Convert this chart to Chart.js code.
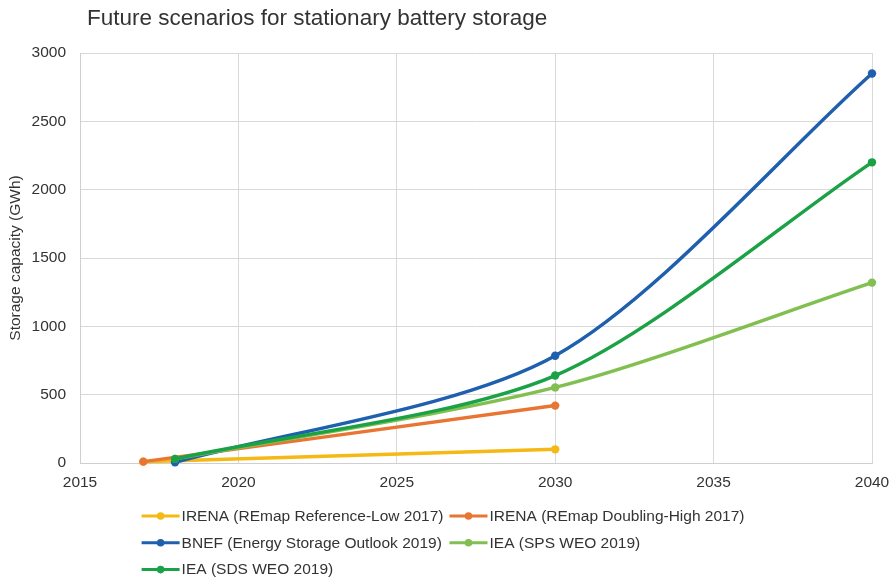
<!DOCTYPE html>
<html>
<head>
<meta charset="utf-8">
<script src="https://cdn.jsdelivr.net/npm/chart.js@4/dist/chart.umd.min.js"></script>
<style>
  html, body { margin: 0; padding: 0; background: #fff; }
  #wrap { width: 893px; height: 582px; position: relative; }
</style>
</head>
<body>
<div id="wrap"><canvas id="chart"></canvas></div>
<script>
// data
const chartTitle = 'Future scenarios for stationary battery storage';
const yTitle = 'Storage capacity (GWh)';
const years = [2017, 2018, 2030, 2040];
const irenaLow  = [10, null, 100, null];
const irenaHigh = [10, null, 420, null];
const bnef      = [null, 5, 785, 2850];
const ieaSps    = [null, 30, 553, 1320];
const ieaSds    = [null, 30, 640, 2200];
const seriesNames = [
  'IRENA (REmap Reference-Low 2017)',
  'IRENA (REmap Doubling-High 2017)',
  'BNEF (Energy Storage Outlook 2019)',
  'IEA (SPS WEO 2019)',
  'IEA (SDS WEO 2019)'
];
const seriesValues = [irenaLow, irenaHigh, bnef, ieaSps, ieaSds];
const seriesColors = ['#f5b915', '#e97532', '#1e5fae', '#80bf50', '#1ba146'];
const xTicks = { min: 2015, max: 2040, step: 5 };
const yTicks = { min: 0, max: 3000, step: 500 };

const FONT = '"Liberation Sans", Arial, sans-serif';
const TEXT = '#333333';

const toPoints = vals => vals.map((v, i) => ({ x: years[i], y: v })).filter(p => p.y !== null);

const datasets = seriesNames.map((name, i) => ({
  label: name,
  data: toPoints(seriesValues[i]),
  borderColor: seriesColors[i],
  backgroundColor: seriesColors[i],
  borderWidth: 3.5,
  pointRadius: 4.2,
  pointHoverRadius: 4.2,
  pointBorderWidth: 0,
  tension: 0.28,
  spanGaps: true,
  clip: false,
  order: seriesNames.length - i
}));

// title + Excel-style two-column legend, drawn on the canvas
const decorPlugin = {
  id: 'decor',
  afterDraw(chart) {
    const ctx = chart.ctx;
    ctx.save();
    ctx.fillStyle = TEXT;
    ctx.font = '22.5px ' + FONT;
    ctx.textAlign = 'left';
    ctx.textBaseline = 'alphabetic';
    ctx.fillText(chartTitle, 87, 25);

    ctx.font = '15.5px ' + FONT;
    const lineLen = 38, gap = 2, colGap = 6;
    const widths = seriesNames.map(n => lineLen + gap + ctx.measureText(n).width);
    const colW = Math.max(...widths) + colGap;
    const startX = (chart.width - (2 * colW - colGap)) / 2;
    const rowY0 = 516, rowH = 26.8;
    seriesNames.forEach((name, i) => {
      const x = startX + (i % 2) * colW;
      const y = rowY0 + Math.floor(i / 2) * rowH;
      ctx.strokeStyle = seriesColors[i];
      ctx.fillStyle = seriesColors[i];
      ctx.lineWidth = 3;
      ctx.beginPath(); ctx.moveTo(x, y); ctx.lineTo(x + lineLen, y); ctx.stroke();
      ctx.beginPath(); ctx.arc(x + lineLen / 2, y, 3.8, 0, Math.PI * 2); ctx.fill();
      ctx.fillStyle = TEXT;
      ctx.textBaseline = 'middle';
      ctx.fillText(name, x + lineLen + gap, y + 0.5);
    });
    ctx.restore();
  }
};

new Chart(document.getElementById('chart'), {
  type: 'line',
  data: { datasets },
  options: {
    responsive: true,
    maintainAspectRatio: false,
    animation: false,
    events: [],
    layout: { padding: { top: 53, right: 21, bottom: 89, left: 0 } },
    plugins: { legend: { display: false }, title: { display: false }, tooltip: { enabled: false } },
    scales: {
      x: {
        type: 'linear',
        min: xTicks.min, max: xTicks.max,
        afterFit: s => { s.height = 30; s.paddingRight = 0; s.paddingLeft = 0; },
        ticks: { stepSize: xTicks.step, color: TEXT, font: { family: FONT, size: 15.5 }, padding: 10,
                 callback: v => String(v), maxRotation: 0 },
        grid: { color: '#d9d9d9', lineWidth: 1, drawTicks: false },
        border: { color: '#cfcfcf', width: 1 }
      },
      y: {
        min: yTicks.min, max: yTicks.max,
        afterFit: s => { s.width = 80; s.paddingTop = 0; s.paddingBottom = 0; },
        ticks: { stepSize: yTicks.step, color: TEXT, font: { family: FONT, size: 15.5 }, padding: 14,
                 callback: v => String(v) },
        grid: { color: '#d9d9d9', lineWidth: 1, drawTicks: false },
        border: { color: '#cfcfcf', width: 1 },
        title: { display: true, text: yTitle, color: TEXT, font: { family: FONT, size: 15.5 },
                 padding: { top: 6, bottom: 0 } }
      }
    }
  },
  plugins: [decorPlugin]
});
</script>
</body>
</html>
